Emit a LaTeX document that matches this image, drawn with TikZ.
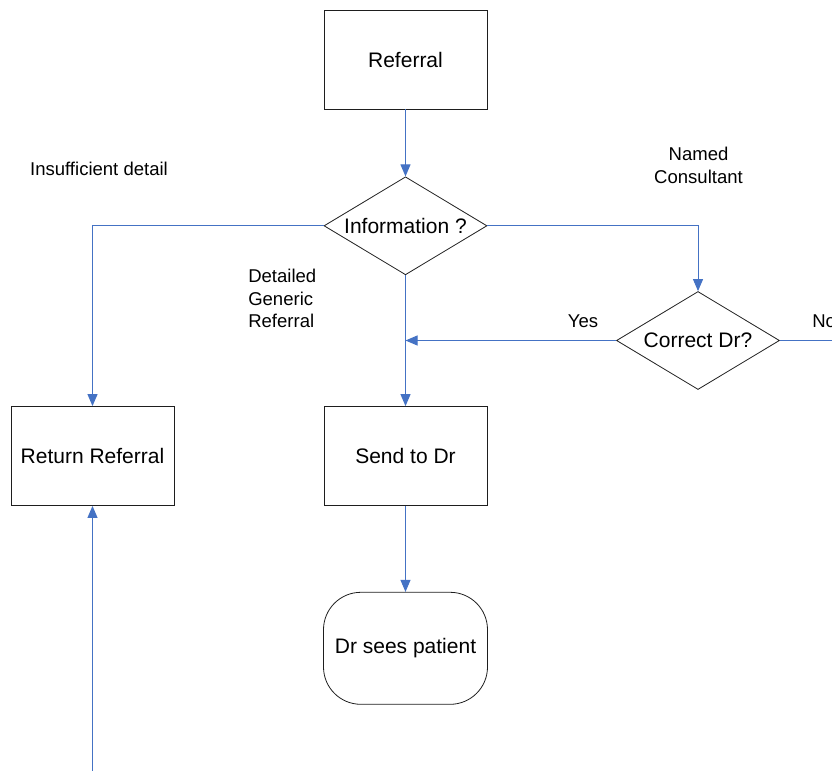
\documentclass[tikz,border=0pt]{standalone}
\usepackage{fontspec}
\setmainfont{Liberation Sans}
\usetikzlibrary{positioning,arrows.meta,shapes.geometric}
\definecolor{flowBlue}{RGB}{68,114,196}
\definecolor{boxGray}{RGB}{30,30,30}

\begin{document}
\begin{tikzpicture}[
    x=0.75pt, y=-0.75pt,
    procbox/.style={rectangle, draw=boxGray, line width=0.6pt, minimum width=122.25pt, minimum height=74.25pt, font=\fontsize{15.75}{19}\selectfont},
    decision/.style={diamond, draw=boxGray, line width=0.6pt, inner sep=0pt, aspect=1.66, minimum width=122.25pt, minimum height=73.5pt, font=\fontsize{15.75}{19}\selectfont},
    terminal/.style={rectangle, rounded corners=28pt, draw=boxGray, line width=0.6pt, minimum width=123pt, minimum height=84pt, font=\fontsize{15.75}{19}\selectfont},
    note/.style={inner sep=0pt, align=left, font=\fontsize{13.9}{17}\selectfont},
    flow/.style={draw=flowBlue, line width=0.75pt, -{Triangle[length=9pt, width=7.5pt]}},
    plain flow/.style={draw=flowBlue, line width=0.75pt}
]
  \useasboundingbox (0,0) rectangle (832,771);

  \node[procbox] (referral) at (405.5,59.5) {Referral};
  \node[decision] (info) [below=50.25pt of referral] {Information ?};
  \node[decision] (correct) at (698,340.5) {Correct Dr?};
  \node[procbox] (return) at (92.5,456) {Return Referral};
  \node[procbox] (send) at (405.5,456) {Send to Dr};
  \node[terminal] (sees) [below=64.5pt of send] {Dr sees patient};

  % labels
  \node[note] (insufficient) at (99,169) {Insufficient detail};
  \node[note, align=center] (named) at (698.5,165.5) {Named\\Consultant};
  \node[note, anchor=west] (generic) at (248,298.5) {Detailed\\Generic\\Referral};
  \node[note] (yes) at (583,321) {Yes};
  \node[note, anchor=west] (no) at (812,321) {No};

  \coordinate (bottomend) at (92.5,771);
  \coordinate (rightend) at (832,340.5);

  \draw[flow] (referral.south) -- (info.north);
  \draw[flow] (info.west) -| (return.north);
  \draw[flow] (info.east) -| (correct.north);
  \draw[flow] (info.south) -- (send.north);
  \draw[flow] (correct.west) -- (correct.west -| send.north);
  \draw[plain flow] (correct.east) -- (rightend);
  \draw[flow] (send.south) -- (sees.north);
  \draw[flow] (bottomend) -- (return.south);
\end{tikzpicture}
\end{document}
